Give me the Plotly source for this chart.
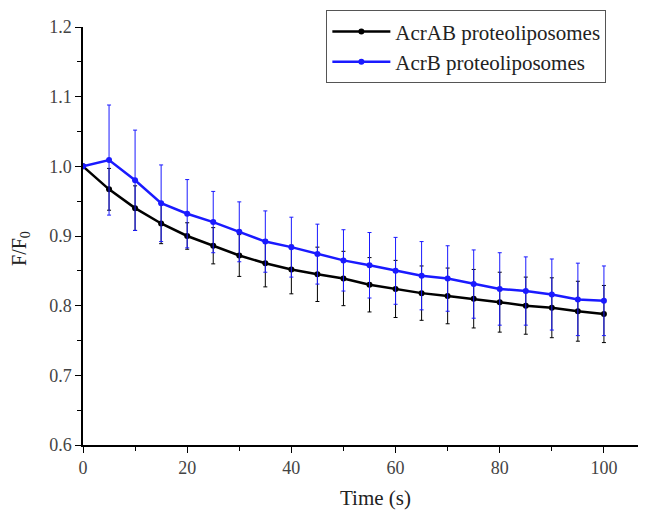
import plotly.graph_objects as go

time_s = [0, 5, 10, 15, 20, 25, 30, 35, 40, 45, 50, 55, 60, 65, 70, 75, 80, 85, 90, 95, 100]

acrab = [1.000, 0.967, 0.940, 0.918, 0.900, 0.886, 0.872, 0.861, 0.852, 0.845, 0.839,
         0.830, 0.824, 0.818, 0.814, 0.810, 0.805, 0.800, 0.797, 0.792, 0.788]
acrab_err = [0.0, 0.030, 0.032, 0.029, 0.019, 0.026, 0.030, 0.034, 0.035, 0.039, 0.039,
             0.039, 0.041, 0.039, 0.040, 0.042, 0.043, 0.041, 0.043, 0.043, 0.041]

acrb = [1.000, 1.009, 0.980, 0.947, 0.932, 0.920, 0.906, 0.892, 0.884, 0.874, 0.865,
        0.858, 0.850, 0.843, 0.839, 0.831, 0.824, 0.821, 0.816, 0.809, 0.807]
acrb_err = [0.0, 0.079, 0.072, 0.055, 0.049, 0.044, 0.043, 0.044, 0.043, 0.043, 0.044,
            0.047, 0.048, 0.049, 0.047, 0.049, 0.052, 0.049, 0.051, 0.052, 0.050]

series_names = ["AcrAB proteoliposomes", "AcrB proteoliposomes"]
colors = ["#000000", "#1a1aff"]

font_family = "Liberation Serif, Times New Roman, serif"

fig = go.Figure()
for name, ys, errs, c in [(series_names[0], acrab, acrab_err, colors[0]),
                          (series_names[1], acrb, acrb_err, colors[1])]:
    fig.add_trace(go.Scatter(
        x=time_s, y=ys, name=name, mode="lines+markers",
        line=dict(color=c, width=2.5),
        marker=dict(color=c, size=6, symbol="circle"),
        error_y=dict(type="data", array=errs, visible=True, color=c,
                     thickness=1, width=2),
    ))

fig.update_layout(
    width=660, height=514,
    margin=dict(l=75, r=0, t=19, b=77),
    paper_bgcolor="white", plot_bgcolor="white",
    font=dict(family=font_family, size=18, color="#333333"),
    showlegend=True,
    legend=dict(
        x=0.416, y=1.04, xanchor="left", yanchor="top",
        bordercolor="#555555", borderwidth=1, bgcolor="white",
        font=dict(family=font_family, size=21, color="#222222"),
        tracegroupgap=0, itemwidth=58,
    ),
    annotations=[dict(
        text="F/F<sub>0</sub>", xref="paper", yref="paper",
        x=-0.107, y=0.47, xanchor="center", yanchor="middle",
        textangle=-90, showarrow=False,
        font=dict(family=font_family, size=20, color="#222222"),
    )],
)

fig.update_xaxes(
    range=[0, 112.3], tickmode="array", tickvals=[0, 20, 40, 60, 80, 100],
    ticktext=["0", "20", "40", "60", "80", "100"],
    showline=True, linecolor="#000000", linewidth=1.5, mirror=False,
    ticks="outside", ticklen=6, tickwidth=1.2, tickcolor="#000000",
    minor=dict(tickvals=[10, 30, 50, 70, 90], ticks="outside", ticklen=4, tickcolor="#000000"),
    showgrid=False, zeroline=False,
    title=dict(text="Time (s)", font=dict(family=font_family, size=21, color="#222222"), standoff=13),
    tickfont=dict(family=font_family, size=18, color="#444444"),
)

fig.update_yaxes(
    range=[0.6, 1.2], tickmode="array",
    tickvals=[0.6, 0.7, 0.8, 0.9, 1.0, 1.1, 1.2],
    ticktext=["0.6", "0.7", "0.8", "0.9", "1.0", "1.1", "1.2"],
    showline=True, linecolor="#000000", linewidth=1.5, mirror=False,
    ticks="outside", ticklen=6, tickwidth=1.2, tickcolor="#000000",
    minor=dict(tickvals=[0.65, 0.75, 0.85, 0.95, 1.05, 1.15], ticks="outside", ticklen=4, tickcolor="#000000"),
    showgrid=False, zeroline=False,
    tickfont=dict(family=font_family, size=18, color="#444444"),
)

fig.write_html("out.html")
